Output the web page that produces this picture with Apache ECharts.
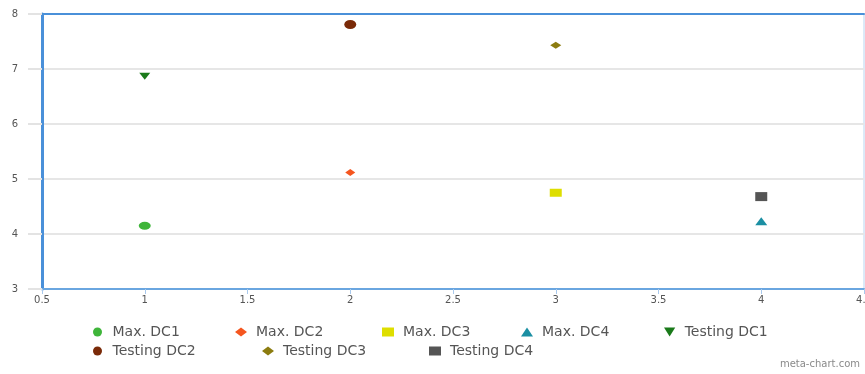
<!DOCTYPE html>
<html>
<head>
<meta charset="utf-8">
<script src="https://cdn.jsdelivr.net/npm/echarts@6/dist/echarts.min.js"></script>
<style>html,body{margin:0;padding:0;background:#fff}#c{width:865px;height:374px}</style>
</head>
<body>
<div id="c"></div>
<script>
// Series names
var seriesNames = ['Max. DC1','Max. DC2','Max. DC3','Max. DC4','Testing DC1','Testing DC2','Testing DC3','Testing DC4'];
// x positions per series
var seriesX = [1, 2, 3, 4, 1, 2, 3, 4];
// y values per series
var seriesY = [4.15, 5.12, 4.75, 4.23, 6.87, 7.81, 7.43, 4.68];
// tick settings
var xMin = 0.5, xMax = 4.5, xStep = 0.5;
var yMin = 3, yMax = 8, yStep = 1;

var colors = ['#3fb53a','#f5561f','#dede00','#1b8fa3','#1a7a1a','#7a2a08','#8c7c10','#555555'];
var symbols = ['circle','diamond','rect','triangle','triangle','circle','diamond','rect'];
var rotates = [0,0,0,0,180,0,0,0];
var sizes = [[12,8],[10,7],[12,8],[12,8],[11,7],[12,9],[11,7],[12,9]];
var legendPos = [[88,320],[230,320],[377,320],[516,320],[659,320],[88,339],[257,339],[424,339]];

var chart = echarts.init(document.getElementById('c'));
var series = seriesNames.map(function(n,i){
  return {
    name: n, type: 'scatter',
    symbol: symbols[i], symbolRotate: rotates[i], symbolSize: sizes[i],
    itemStyle: {color: colors[i], opacity: 1},
    data: [[seriesX[i], seriesY[i]]]
  };
});
var legends = seriesNames.map(function(n,i){
  return {
    data: [{name: n, icon: symbols[i] === 'triangle' && rotates[i] ? 'path://M0,0 L10,0 L5,8 Z' : symbols[i]}],
    left: legendPos[i][0], top: legendPos[i][1],
    itemWidth: 12, itemHeight: 9, itemGap: 0,
    itemStyle: {opacity: 1},
    textStyle: {color: '#555', fontSize: 14, fontFamily: 'DejaVu Sans', padding:[0,0,0,4]}
  };
});
chart.setOption({
  animation: false,
  grid: {left: 42, right: 1, top: 14, bottom: 85, show: true, borderColor: '#b9d4f0', borderWidth: 1, containLabel: false, outerBoundsMode: 'none'},
  title: {text: 'meta-chart.com', right: 0, bottom: 0, textStyle: {fontSize: 10, color: '#8a8a8a', fontWeight: 'normal', fontFamily: 'DejaVu Sans'}},
  legend: legends,
  xAxis: [{
    type: 'value', min: xMin, max: xMax, interval: xStep,
    axisLine: {show: true, lineStyle: {color: '#6aa6e0', width: 2}},
    axisTick: {show: true, length: 5, lineStyle: {color: '#a9c9ec'}},
    axisLabel: {color: '#555', fontSize: 10, margin: 6, fontFamily: 'DejaVu Sans'},
    splitLine: {show: false}
  },{
    type: 'value', position: 'top', min: xMin, max: xMax, interval: xStep,
    axisLine: {show: true, lineStyle: {color: '#4a90d9', width: 2}},
    axisTick: {show: false}, axisLabel: {show: false}, splitLine: {show: false}
  }],
  yAxis: {
    type: 'value', min: yMin, max: yMax, interval: yStep,
    axisLine: {show: true, lineStyle: {color: '#4a90d9', width: 3}},
    axisTick: {show: true, length: 14, lineStyle: {color: '#e3e3e3', width: 2}},
    axisLabel: {color: '#555', fontSize: 10, margin: 24, fontFamily: 'DejaVu Sans'},
    splitLine: {show: true, lineStyle: {color: '#e6e6e6', width: 2}}
  },
  series: series
});
</script>
</body>
</html>
